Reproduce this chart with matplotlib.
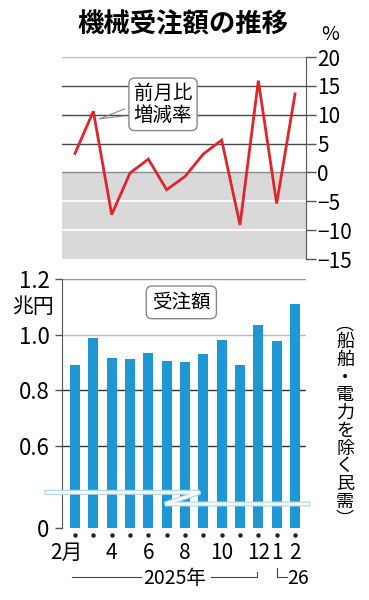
import numpy as np
import matplotlib
matplotlib.use('Agg')
import matplotlib.pyplot as plt
from matplotlib.lines import Line2D
import matplotlib.transforms as mtrans

plt.rcParams['font.family'] = ['Noto Sans CJK JP', 'DejaVu Sans']

# data
months = ['2月', '', '4', '', '6', '', '8', '', '10', '', '12', '1', '2']
zougen = [3.3, 10.6, -7.3, -0.1, 2.3, -3.0, -0.7, 3.2, 5.6, -9.1, 15.9, -5.4, 13.6]   # 前月比 %
juchu = [0.892, 0.987, 0.915, 0.914, 0.935, 0.907, 0.901, 0.930, 0.982, 0.893, 1.035, 0.979, 1.112]  # 兆円
top_ticks = [20, 15, 10, 5, 0, -5, -10, -15]
bot_ticks = [0.6, 0.8, 1.0, 1.2]

W, H = 369, 600
aka = '#e0242c'
ao = '#1f97d4'
hai = '#d9d9d9'
x = np.arange(len(juchu))
Y0 = 0.306   # 縦軸の省略部分、0の位置

def fx(p):
    return p / W

def fy(p):
    return 1 - p / H

fig = plt.figure(figsize=(W / 100, H / 100), dpi=100)

# ---- 上：前月比増減率
ax1 = fig.add_axes([fx(62), fy(259), fx(306) - fx(62), fy(57) - fy(259)])
ax1.set_xlim(-0.71, 12.6)
ax1.set_ylim(-15, 20)
ax1.axhspan(-15, 0, color=hai, zorder=0, lw=0)
for t in top_ticks:
    if t > 0 and t < 20:
        ax1.axhline(t, color='#4a4a4a', lw=1.0, zorder=1)
    elif t == 20:
        ax1.axhline(t, color='#bbbbbb', lw=1.0, zorder=1)
    elif t == 0:
        ax1.axhline(t, color='#8a8a8a', lw=1.0, zorder=1)
    elif t > -15:
        ax1.axhline(t, color='white', lw=1.2, zorder=1)
ax1.plot(x, zougen, color=aka, lw=2.0, zorder=3, solid_joinstyle='miter')
for s in ['left', 'top', 'bottom']:
    ax1.spines[s].set_visible(False)
ax1.spines['right'].set_color('#555555')
ax1.yaxis.tick_right()
ax1.set_yticks(top_ticks)
ax1.set_yticklabels([str(t).replace('-', '−') for t in top_ticks], fontsize=15)
ax1.tick_params(axis='y', length=7, width=1, color='#555555', pad=1)
ax1.set_xticks([])

# 前月比 label
ax1.text(4.8, 11.8, '前月比\n増減率', fontsize=14, ha='center', va='center', linespacing=1.05,
         bbox=dict(boxstyle='round,pad=0.25,rounding_size=0.3', fc='white', ec='#888888', lw=1))
ax1.plot([1.35, 2.7], [9.3, 11.0], color='#888888', lw=0.8, zorder=2)
ax1.plot([1.35, 2.7], [9.3, 9.8], color='#888888', lw=0.8, zorder=2)

# ---- 下：受注額
ax2 = fig.add_axes([fx(62), fy(527.7), fx(306) - fx(62), fy(279.3) - fy(527.7)])
ax2.set_xlim(-0.71, 12.6)
ax2.set_ylim(Y0, 1.2)
grid_cols = {0.6: '#333333', 0.8: '#333333', 1.0: '#bbbbbb', 1.2: '#999999'}
for t in bot_ticks:
    ax2.axhline(t, color=grid_cols[t], lw=1.0, zorder=1)
ax2.bar(x, np.array(juchu) - Y0, bottom=Y0, width=0.56, color=ao, zorder=2)
for s in ['right', 'top', 'bottom']:
    ax2.spines[s].set_visible(False)
ax2.spines['left'].set_color('#555555')
ax2.set_yticks([Y0] + bot_ticks)
ax2.set_yticklabels(['0'] + ['%.1f' % t for t in bot_ticks], fontsize=16)
ax2.tick_params(axis='y', length=5, width=1, color='#555555', pad=4)
ax2.set_xticks([])

# 省略記号
brk_x = [-0.061, 0.566, 0.422, 1.008]
brk_y = [0.1425, 0.1425, 0.0954, 0.0954]
ax2.plot(brk_x, brk_y, transform=ax2.transAxes, color='#a8d6ef', lw=3.6, clip_on=False, zorder=4,
         solid_joinstyle='miter')
ax2.plot(brk_x, brk_y, transform=ax2.transAxes, color='white', lw=2.0, clip_on=False, zorder=5,
         solid_joinstyle='miter')

# 月の点とラベル
trans = mtrans.blended_transform_factory(ax2.transData, ax2.transAxes)
ax2.plot(x, [-0.029] * len(x), 'o', ms=2.2, color='#222222', transform=trans, clip_on=False)
for i, m in enumerate(months):
    if m == '':
        continue
    if m == '2月':
        ax2.text(i + 0.4, -0.102, m, transform=trans, ha='right', va='center', fontsize=15)
    else:
        ax2.text(i, -0.102, m, transform=trans, ha='center', va='center', fontsize=15)

ax2.text(5.8, 1.117, '受注額', fontsize=14, ha='center', va='center',
         bbox=dict(boxstyle='round,pad=0.3,rounding_size=0.3', fc='white', ec='#888888', lw=1))

# 年の表示
yl = fy(577)
fig.add_artist(Line2D([fx(72), fx(141)], [yl, yl], color='#444444', lw=0.8))
fig.add_artist(Line2D([fx(211), fx(257), fx(257)], [yl, yl, fy(572)], color='#444444', lw=0.8))
fig.add_artist(Line2D([fx(277), fx(277), fx(287)], [fy(568), yl, yl], color='#444444', lw=0.8))
fig.text(fx(175), fy(579), '2025年', ha='center', va='center', fontsize=14)
fig.text(fx(287), fy(579), '26', ha='left', va='center', fontsize=14)

# 題・単位
fig.text(fx(183), fy(25), '機械受注額の推移', ha='center', va='center', fontsize=19, fontweight='bold')
fig.text(fx(330), fy(34), '%', ha='center', va='center', fontsize=14)
fig.text(fx(33), fy(307), '兆円', ha='center', va='center', fontsize=15)

# 縦書き注記
tate = '︵船舶・電力を除く民需︶'
fig.text(fx(345), fy(422), '\n'.join(tate), ha='center', va='center', ma='center',
         fontsize=13, linespacing=0.98)

fig.savefig('out.png', dpi=100)
